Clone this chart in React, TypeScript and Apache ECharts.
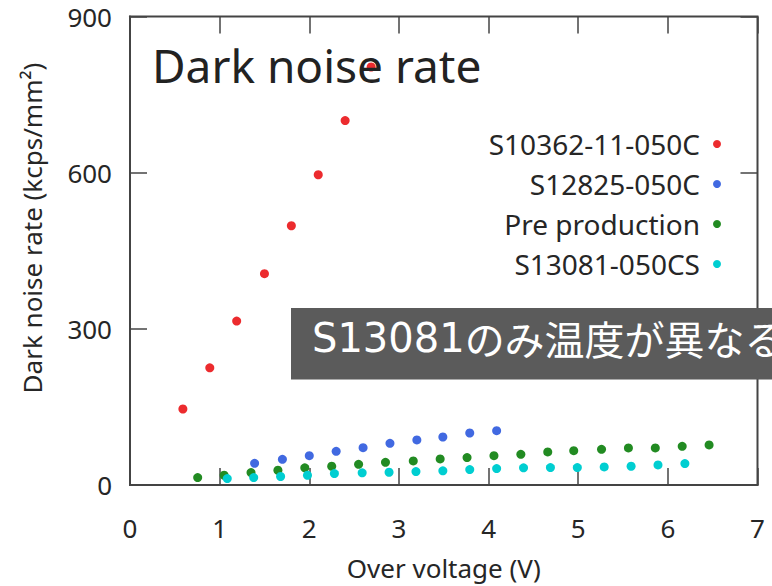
import { useEffect, useRef } from "react";
import * as echarts from "echarts";

// Dark noise rate vs over voltage for four MPPC types
const seriesNames = ["S10362-11-050C", "S12825-050C", "Pre production", "S13081-050CS"];

const s10362Voltage = [0.59, 0.89, 1.19, 1.5, 1.8, 2.1, 2.4, 2.69];
const s10362Rate = [146, 225, 315, 406, 498, 596, 700, 803];

const s12825Voltage = [1.39, 1.7, 2.0, 2.3, 2.6, 2.9, 3.2, 3.49, 3.79, 4.09];
const s12825Rate = [41.7, 49.4, 56.4, 64.7, 71.7, 80, 86.5, 92.2, 99.9, 104.3];

const preProductionVoltage = [
  0.755, 1.05, 1.35, 1.65, 1.95, 2.25, 2.55, 2.85, 3.16, 3.46,
  3.76, 4.06, 4.36, 4.66, 4.95, 5.26, 5.56, 5.86, 6.16, 6.46,
];
const preProductionRate = [
  14.3, 18.7, 23.9, 28.3, 32.9, 36, 39.8, 43.6, 46.3, 50.1,
  52.6, 56.4, 58.9, 63.5, 66, 68.5, 71.2, 71.2, 74.2, 76.9,
];

const s13081Voltage = [
  1.085, 1.38, 1.68, 1.98, 2.28, 2.59, 2.89, 3.19, 3.49, 3.79,
  4.09, 4.39, 4.69, 4.99, 5.29, 5.59, 5.89, 6.19,
];
const s13081Rate = [
  12.4, 14.3, 16.3, 18.7, 22, 23.3, 24.5, 25.8, 27.2, 29.7,
  31.6, 32.9, 33.5, 33.5, 34.8, 36, 38.6, 41.1,
];

const xTicks = { min: 0, max: 7, interval: 1 };
const yTicks = { min: 0, max: 900, interval: 300 };

const colors = ["#ec2b2e", "#4169e1", "#228b22", "#00ced1"];
const legendRowCenters = [145, 185, 225, 265];

const zip = (xs: number[], ys: number[]) => xs.map((x, i) => [x, ys[i]]);

const seriesData = [
  zip(s10362Voltage, s10362Rate),
  zip(s12825Voltage, s12825Rate),
  zip(preProductionVoltage, preProductionRate),
  zip(s13081Voltage, s13081Rate),
];

const axisColor = "#444";
const textColor = "#262626";
const latinFont = "'Noto Sans', sans-serif";

export default function App() {
  const ref = useRef<HTMLDivElement>(null);

  useEffect(() => {
    if (!ref.current) return;
    const chart = echarts.init(ref.current, undefined, { renderer: "svg" });

    const tickStyle = { show: true, inside: true, length: 17, lineStyle: { color: axisColor, width: 1.5 } };

    chart.setOption({
      animation: false,
      backgroundColor: "#fff",
      grid: {
        left: 130,
        right: 14.5,
        top: 16.5,
        bottom: 99.5,
        show: true,
        borderColor: axisColor,
        borderWidth: 2,
        backgroundColor: "transparent",
      },
      xAxis: [
        {
          type: "value",
          ...xTicks,
          position: "bottom",
          name: "Over voltage (V)",
          nameLocation: "middle",
          nameGap: 70,
          nameTextStyle: { fontSize: 26, fontFamily: latinFont, color: textColor },
          axisLine: { show: true, onZero: false, lineStyle: { color: axisColor, width: 2 } },
          axisTick: tickStyle,
          axisLabel: { fontSize: 26, fontFamily: latinFont, color: textColor, margin: 30 },
          splitLine: { show: false },
        },
        {
          type: "value",
          ...xTicks,
          position: "top",
          axisLine: { show: false, onZero: false },
          axisTick: tickStyle,
          axisLabel: { show: false },
          splitLine: { show: false },
        },
      ],
      yAxis: [
        {
          type: "value",
          ...yTicks,
          position: "left",
          axisLine: { show: true, onZero: false, lineStyle: { color: axisColor, width: 2 } },
          axisTick: tickStyle,
          axisLabel: { fontSize: 26, fontFamily: latinFont, color: textColor, margin: 18 },
          splitLine: { show: false },
        },
        {
          type: "value",
          ...yTicks,
          position: "right",
          axisLine: { show: false, onZero: false },
          axisTick: tickStyle,
          axisLabel: { show: false },
          splitLine: { show: false },
        },
      ],
      legend: seriesNames.map((name, i) => ({
        data: [name],
        orient: "vertical",
        right: 51,
        top: legendRowCenters[i] - 15,
        align: "right",
        icon: "circle",
        itemWidth: 24,
        itemHeight: 8,
        padding: 0,
        selectedMode: false,
        textStyle: { fontSize: 28, fontFamily: latinFont, color: textColor },
      })),
      series: seriesNames.map((name, i) => ({
        name,
        type: "scatter",
        xAxisIndex: 0,
        yAxisIndex: 0,
        symbol: "circle",
        symbolSize: 9,
        itemStyle: { color: colors[i], opacity: 1 },
        data: seriesData[i],
      })),
      graphic: [
        {
          type: "text",
          z: 100,
          x: 32,
          y: 228,
          rotation: Math.PI / 2,
          style: {
            text: "Dark noise rate (kcps/mm²)",
            fontSize: 26,
            fontFamily: latinFont,
            fill: textColor,
            align: "center",
            verticalAlign: "middle",
          },
        },
        {
          type: "text",
          z: 100,
          x: 152,
          y: 65,
          style: {
            text: "Dark noise rate",
            fontSize: 46,
            fontFamily: latinFont,
            fill: "#222",
            align: "left",
            verticalAlign: "middle",
          },
        },
        {
          type: "rect",
          z: 100,
          shape: { x: 291, y: 308, width: 481, height: 71.5 },
          style: { fill: "#5b5b5b" },
        },
        {
          type: "text",
          z: 101,
          x: 312,
          y: 338,
          style: {
            text: "{a|S13081}{b|のみ温度が異なる}",
            fill: "#fff",
            align: "left",
            verticalAlign: "middle",
            rich: {
              a: { fontSize: 40, fontFamily: "'DejaVu Sans', sans-serif", fill: "#fff" },
              b: { fontSize: 40, fontFamily: "'Noto Sans CJK JP', sans-serif", fill: "#fff" },
            },
          },
        },
      ],
    });

    return () => chart.dispose();
  }, []);

  return (
    <div
      ref={ref}
      style={{ position: "fixed", left: 0, top: 0, width: 772, height: 586 }}
    />
  );
}
